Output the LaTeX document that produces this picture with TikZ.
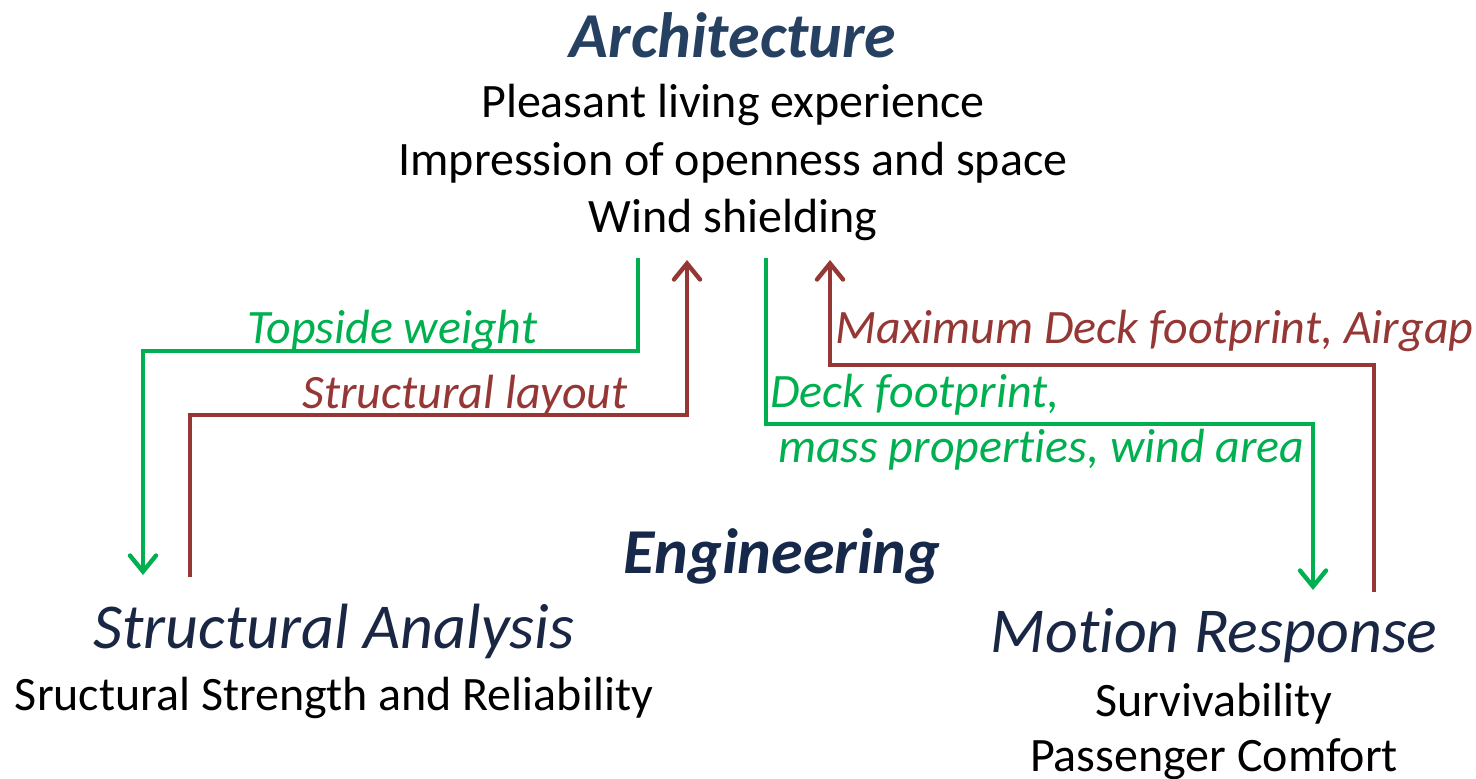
\documentclass[tikz,border=0pt]{standalone}
\usepackage{fontspec}
\setmainfont{Carlito}[Ligatures={NoCommon}]
\usetikzlibrary{arrows.meta}
\definecolor{cgreen}{HTML}{00B050}
\definecolor{cred}{HTML}{953735}
\definecolor{ctitle}{HTML}{254061}
\definecolor{ceng}{HTML}{17294A}
\definecolor{csub}{HTML}{1A2744}
\tikzset{
  txt/.style={inner sep=0pt, anchor=base},
  body/.style={txt, font=\fontsize{24}{28}\selectfont, text=black},
  lab/.style={inner sep=0pt, font=\fontsize{24}{28}\selectfont\itshape},
  glab/.style={lab, text=cgreen},
  rlab/.style={lab, text=cred},
  head/.style={txt, font=\fontsize{32}{38}\selectfont\itshape, text=csub},
  gline/.style={draw=cgreen, line width=2.2pt},
  rline/.style={draw=cred, line width=2.2pt},
  tip/.style={-{Straight Barb[length=8pt,width=13pt,line cap=round]}},
}
\begin{document}
\begin{tikzpicture}[x=0.5pt,y=-0.5pt]
\useasboundingbox (0,0) rectangle (1476,778);
\node[txt, font=\fontsize{32}{38}\selectfont\bfseries\itshape, text=ctitle] (arch) at (733,57) {Architecture};
\node[body] (a1) at (733,117) {Pleasant living experience};
\node[body] (a2) at (733,175) {Impression of openness and space};
\node[body] (a3) at (733,232) {Wind shielding};
\node[txt, font=\fontsize{32}{38}\selectfont\bfseries\itshape, text=ceng] (eng) at (782,573) {Engineering};
\node[head] (sa) at (334,648) {Structural Analysis};
\node[body] (sa1) at (334,710) {Sructural Strength and Reliability};
\node[head] (mr) at (1214,652) {Motion Response};
\node[body] (mr1) at (1214,716) {Survivability};
\node[body] (mr2) at (1214,771) {Passenger Comfort};
% labels
\node[glab, anchor=base west] (l1) at (247,343) {Topside weight};
\node[rlab, anchor=base east] (l2) at (628,408) {Structural layout};
\node[rlab, anchor=base west] (l3) at (835,343) {Maximum Deck footprint, Airgap};
\node[glab, anchor=base west] (l4) at (770,407) {Deck footprint,};
\node[glab, anchor=base east] (l5) at (1305,462) {mass properties, wind area};
% connector endpoints
\coordinate (g1s) at (638,258);
\coordinate (g1e) at (143,575);
\coordinate (r1s) at (190,577);
\coordinate (r1e) at (687,260);
\coordinate (g2s) at (766,258);
\coordinate (g2e) at (1313,590);
\coordinate (r2s) at (1374,592);
\coordinate (r2e) at (830,260);
\draw[gline, tip] (g1s) -- (g1s |- 0,351) -- (g1e |- 0,351) -- (g1e);
\draw[rline, tip] (r1s) -- (r1s |- 0,415) -- (r1e |- 0,415) -- (r1e);
\draw[gline, tip] (g2s) -- (g2s |- 0,424) -- (g2e |- 0,424) -- (g2e);
\draw[rline, tip] (r2s) -- (r2s |- 0,365) -- (r2e |- 0,365) -- (r2e);
\end{tikzpicture}
\end{document}
